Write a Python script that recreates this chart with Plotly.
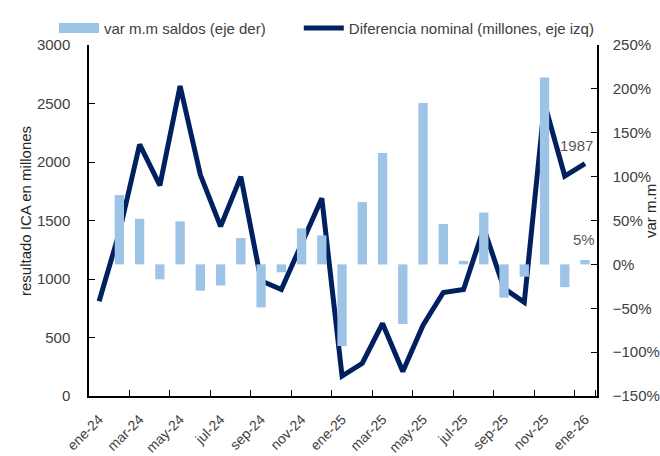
import plotly.graph_objects as go

# meses (ene-24 .. ene-26)
meses = ['ene-24', 'feb-24', 'mar-24', 'abr-24', 'may-24', 'jun-24', 'jul-24', 'ago-24',
         'sep-24', 'oct-24', 'nov-24', 'dic-24', 'ene-25', 'feb-25', 'mar-25', 'abr-25',
         'may-25', 'jun-25', 'jul-25', 'ago-25', 'sep-25', 'oct-25', 'nov-25', 'dic-25',
         'ene-26']

# diferencia nominal, millones (eje izq)
diferencia = [810, 1400, 2150, 1800, 2650, 1890, 1450, 1875, 985, 910, 1300, 1690,
              170, 280, 620, 210, 605, 885, 910, 1435, 920, 800, 2500, 1880, 1987]

# var m.m saldos, % (eje der)
var_mm = [None, 79, 52, -17, 49, -30, -24, 30, -49, -9, 41, 33,
          -93, 71, 127, -68, 184, 46, 4, 59, -38, -14, 213, -26, 5]

AZUL_CLARO = '#9DC3E6'
AZUL_OSC = '#002060'
FUENTE = 'Liberation Sans'
GRIS = '#404040'

fig = go.Figure()

fig.add_trace(go.Bar(x=meses, y=var_mm, yaxis='y2', marker_color=AZUL_CLARO,
                     marker_line_width=0, width=0.46, showlegend=False))
# solo para la leyenda (swatch ancho como en el original)
fig.add_trace(go.Scatter(x=[meses[0]], y=[None], yaxis='y2', mode='lines',
                         line=dict(color=AZUL_CLARO, width=10),
                         name='var m.m saldos (eje der)', legend='legend'))
fig.add_trace(go.Scatter(x=meses, y=diferencia, mode='lines',
                         line=dict(color=AZUL_OSC, width=5),
                         name='Diferencia nominal (millones, eje izq)', legend='legend2'))

# etiquetas del ultimo dato
fig.add_annotation(x=meses[-1], y=diferencia[-1], yref='y', text=str(diferencia[-1]),
                   showarrow=False, xshift=-9, yshift=18,
                   font=dict(size=15, color='#595959'))
fig.add_annotation(x=meses[-1], y=var_mm[-1], yref='y2', text=f'{var_mm[-1]}%',
                   showarrow=False, xshift=-1, yshift=20,
                   font=dict(size=15, color='#595959'))

# titulos de ejes
fig.add_annotation(xref='paper', yref='paper', x=(25 - 89) / 508, y=0.527,
                   xanchor='center', yanchor='middle',
                   text='resultado ICA en millones', textangle=-90, showarrow=False,
                   font=dict(size=15, color='#262626'))
fig.add_annotation(xref='paper', yref='paper', x=(650 - 89) / 508, y=0.527,
                   xanchor='center', yanchor='middle',
                   text='var m.m', textangle=-90, showarrow=False,
                   font=dict(size=15, color='#262626'))

leyenda = dict(orientation='h', y=1.048, xanchor='left', yanchor='middle',
               font=dict(size=15, color=GRIS), itemwidth=40, bgcolor='rgba(0,0,0,0)')

fig.update_layout(
    width=660, height=456,
    margin=dict(l=89, r=63, t=45, b=60, autoexpand=False),
    plot_bgcolor='white', paper_bgcolor='white',
    font=dict(family=FUENTE, size=15, color=GRIS),
    legend=dict(leyenda, x=-0.069),
    legend2=dict(leyenda, x=0.413),
    xaxis=dict(type='category', tickmode='array', tickvals=meses[::2], ticktext=meses[::2],
               tickangle=-45, tickson='boundaries', ticks='inside', ticklen=6,
               tickcolor='black', showline=True, linecolor='black', linewidth=1.5,
               showgrid=False, tickfont=dict(size=14), ticklabelstandoff=8,
               automargin=False),
    yaxis=dict(range=[0, 3000], dtick=500, ticks='inside', ticklen=6, tickcolor='black',
               showline=True, linecolor='black', linewidth=1.5, showgrid=False,
               zeroline=False, ticklabelstandoff=14, automargin=False),
    yaxis2=dict(range=[-150, 250], dtick=50, ticksuffix='%', overlaying='y', side='right',
                ticks='inside', ticklen=6, tickcolor='black', showline=True,
                linecolor='black', linewidth=1.5, showgrid=False, zeroline=False,
                ticklabelstandoff=11, automargin=False),
)

fig.write_html('out.html', config={'displayModeBar': False},
               post_script="document.body.style.margin='0';")
